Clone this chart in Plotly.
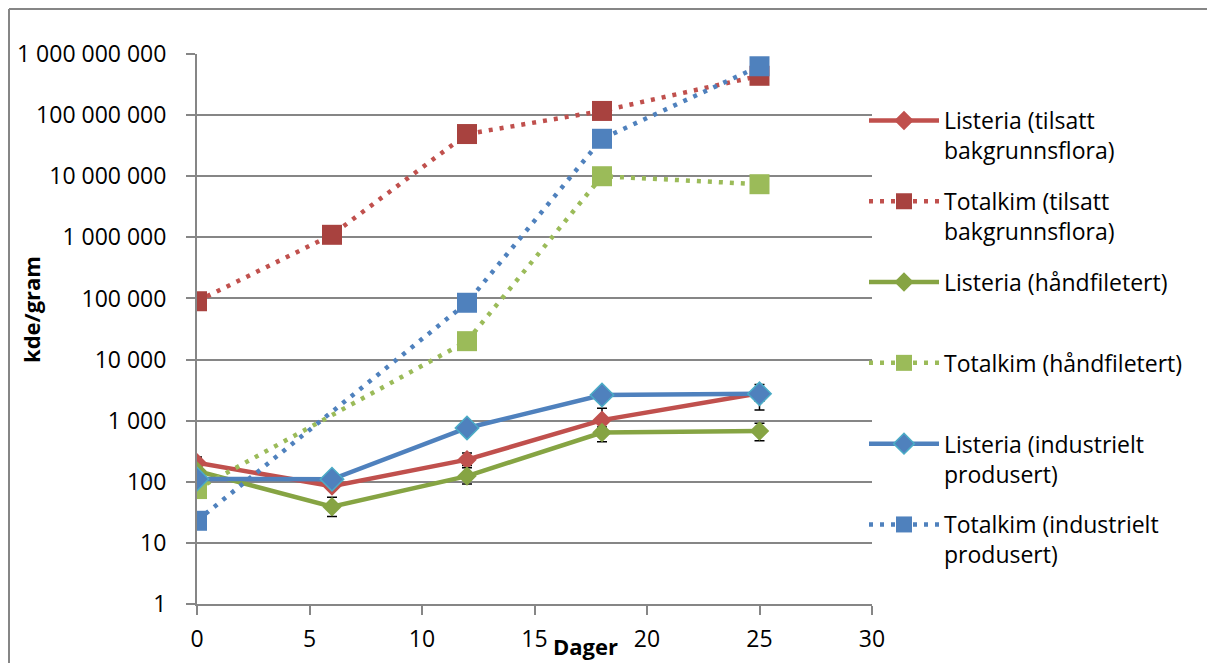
import plotly.graph_objects as go

days = [0, 6, 12, 18, 25]

# Listeria (tilsatt bakgrunnsflora)
listeria_tilsatt = [205, 85, 230, 1020, 2800]
listeria_tilsatt_hi = [255, 95, 295, 1600, 3900]
listeria_tilsatt_lo = [165, 75, 185, 700, 2100]
# Totalkim (tilsatt bakgrunnsflora)
totalkim_tilsatt = [90000, 1100000, 49000000, 117000000, 440000000]
# Listeria (håndfiletert)
listeria_hand = [150, 39, 124, 640, 680]
listeria_hand_hi = [175, 56, 170, 790, 910]
listeria_hand_lo = [130, 27, 92, 450, 470]
# Totalkim (håndfiletert)
totalkim_hand = [76, None, 20000, 10000000, 7400000]
# Listeria (industrielt produsert)
listeria_ind = [111, 110, 760, 2630, 2750]
listeria_ind_hi = [120, 120, 850, 2900, 3500]
listeria_ind_lo = [100, 100, 680, 2400, 1500]
# Totalkim (industrielt produsert)
totalkim_ind = [23, None, 85000, 41000000, 630000000]

names = [
    "Listeria (tilsatt<br>bakgrunnsflora)",
    "Totalkim (tilsatt<br>bakgrunnsflora)",
    "Listeria (håndfiletert)<br> ",
    "Totalkim (håndfiletert)<br> ",
    "Listeria (industrielt<br>produsert)",
    "Totalkim (industrielt<br>produsert)",
]

ytickvals = [1, 10, 100, 1000, 10000, 100000, 1000000, 10000000, 100000000, 1000000000]
yticktext = ["1", "10", "100", "1 000", "10 000", "100 000", "1 000 000",
             "10 000 000", "100 000 000", "1 000 000 000"]

FONT = "Open Sans"
DOTS = "4px,7px"


def errs(vals, hi, lo):
    plus = [h - v for h, v in zip(hi, vals)]
    minus = [v - l for v, l in zip(vals, lo)]
    return dict(type="data", array=plus, arrayminus=minus, symmetric=False,
                color="black", thickness=1.5, width=5)


def clean(xs, ys):
    px, py = [], []
    for x, y in zip(xs, ys):
        if y is not None:
            px.append(x)
            py.append(y)
    return px, py


fig = go.Figure()

fig.add_trace(go.Scatter(
    x=days, y=listeria_tilsatt, name=names[0], legendgroup="g1", mode="lines+markers",
    line=dict(color="#C0504D", width=4.5),
    marker=dict(symbol="diamond", size=15, color="#C0504D"),
    error_y=errs(listeria_tilsatt, listeria_tilsatt_hi, listeria_tilsatt_lo)))
x, y = clean(days, totalkim_tilsatt)
fig.add_trace(go.Scatter(
    x=x, y=y, name=names[1], legendgroup="g2", mode="lines+markers",
    line=dict(color="#C0504D", width=4.5, dash=DOTS),
    marker=dict(symbol="square", size=20, color="#A8423F")))
fig.add_trace(go.Scatter(
    x=days, y=listeria_hand, name=names[2], legendgroup="g3", mode="lines+markers",
    line=dict(color="#86A443", width=4.5),
    marker=dict(symbol="diamond", size=15, color="#86A443"),
    error_y=errs(listeria_hand, listeria_hand_hi, listeria_hand_lo)))
x, y = clean(days, totalkim_hand)
fig.add_trace(go.Scatter(
    x=x, y=y, name=names[3], legendgroup="g4", mode="lines+markers",
    line=dict(color="#9BBB59", width=4.5, dash=DOTS),
    marker=dict(symbol="square", size=20, color="#9BBB59")))
fig.add_trace(go.Scatter(
    x=days, y=listeria_ind, name=names[4], legendgroup="g5", mode="lines+markers",
    line=dict(color="#4F81BD", width=4.5),
    marker=dict(symbol="diamond", size=18, color="#4F81BD",
                line=dict(color="#4BACC6", width=1.5)),
    error_y=errs(listeria_ind, listeria_ind_hi, listeria_ind_lo)))
x, y = clean(days, totalkim_ind)
fig.add_trace(go.Scatter(
    x=x, y=y, name=names[5], legendgroup="g6", mode="lines+markers",
    line=dict(color="#4F81BD", width=4.5, dash=DOTS),
    marker=dict(symbol="square", size=20, color="#4F81BD")))

# window coordinates of the plot area (page body adds an 8px offset)
OFF = 8
L, R, T, B = 197, 872, 54, 604
W, H = 1215 - OFF, 663 - OFF
pw, ph = R - L, B - T

fig.update_layout(
    width=W, height=H,
    margin=dict(l=L - OFF, r=W - (R - OFF), t=T - OFF, b=H - (B - OFF), autoexpand=False),
    paper_bgcolor="white", plot_bgcolor="white",
    font=dict(family=FONT, size=23, color="black"),
    showlegend=True,
    legend=dict(
        x=(864 - L) / pw, xanchor="left",
        y=(B - 99) / ph, yanchor="top",
        font=dict(family=FONT, size=23, color="black"),
        itemwidth=70, valign="top", tracegroupgap=18,
        bgcolor="rgba(0,0,0,0)", traceorder="grouped",
    ),
    xaxis=dict(
        range=[0, 30], dtick=5, tick0=0, automargin=False,
        showgrid=False, zeroline=False,
        showline=True, linecolor="#868686", linewidth=2,
        ticks="outside", ticklen=9, tickcolor="#868686", tickwidth=2,
        tickfont=dict(family=FONT, size=23), ticklabelstandoff=4,
    ),
    yaxis=dict(
        type="log", range=[0, 9], automargin=False,
        tickvals=ytickvals, ticktext=yticktext,
        showgrid=True, gridcolor="#868686", gridwidth=2,
        zeroline=False,
        showline=True, linecolor="#868686", linewidth=2,
        ticks="outside", ticklen=9, tickcolor="#868686", tickwidth=2,
        tickfont=dict(family=FONT, size=23), ticklabelstandoff=15,
    ),
    annotations=[
        dict(text="<b>Dager</b>", xref="paper", yref="paper",
             x=(585 - L) / pw, y=(B - 646) / ph, xanchor="center", yanchor="middle",
             showarrow=False, font=dict(family=FONT, size=22)),
        dict(text="<b>kde/gram</b>", xref="paper", yref="paper",
             x=(31 - L) / pw, y=(B - 310) / ph, xanchor="center", yanchor="middle",
             textangle=-90, showarrow=False, font=dict(family=FONT, size=22)),
    ],
    shapes=[
        dict(type="line", xref="paper", yref="paper",
             x0=(9 - L) / pw, x1=(9 - L) / pw, y0=(B - 9) / ph, y1=(B - 700) / ph,
             line=dict(color="#868686", width=2)),
        dict(type="line", xref="paper", yref="paper",
             x0=(9 - L) / pw, x1=(1300 - L) / pw, y0=(B - 9) / ph, y1=(B - 9) / ph,
             line=dict(color="#868686", width=2)),
    ],
)

fig.write_html("out.html")
